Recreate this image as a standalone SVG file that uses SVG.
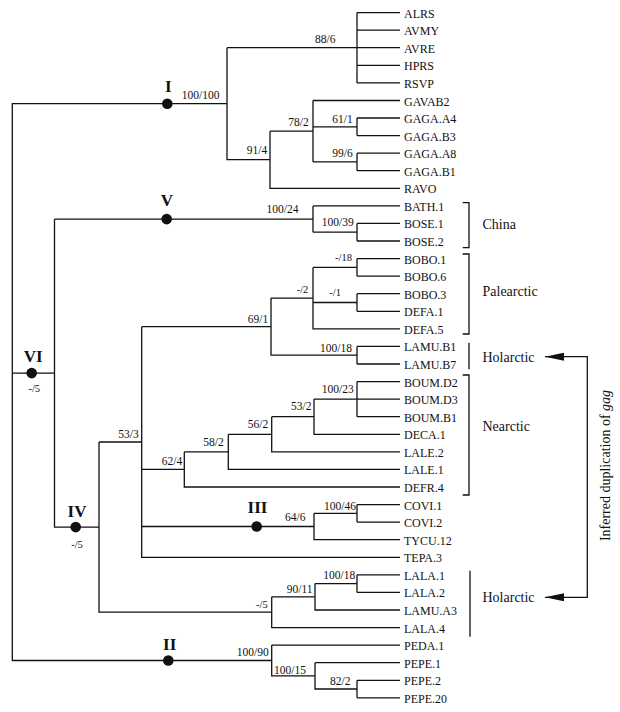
<svg xmlns="http://www.w3.org/2000/svg" width="620" height="712" viewBox="0 0 620 712">
<style>
.t{font-family:"Liberation Serif","Times New Roman",serif;fill:#111}
.lf{font-size:12px}
.s{font-size:11.5px}
.sd{font-size:10.5px}
.rn{font-size:17px;font-weight:bold;text-anchor:middle}
.rg{font-size:14px}
.ln{fill:none;stroke:#111;stroke-width:1.3}
.dot{fill:#111}
</style>
<defs>
<marker id="ah" markerUnits="userSpaceOnUse" viewBox="0 0 19 8" markerWidth="19" markerHeight="8" refX="19" refY="4" orient="auto-start-reverse">
<path d="M0,0 L19,4 L0,8 z" fill="#111"/>
</marker>
</defs>
<rect width="620" height="712" fill="#fff"/>
<g id="connectors" class="ln">
<!-- root -->
<path d="M227,103.7 H12.3 V660.5 H271.7"/>
<path d="M12.3,373.1 H54.5"/>
<!-- clade I -->
<path d="M227,47.7 V159.7 H270"/>
<path d="M227,47.7 H400"/>
<path d="M357,12.6 V82.9"/>
<path d="M357,12.6 H400 M357,30.2 H400 M357,65.3 H400 M357,82.9 H400"/>
<path d="M270,131.2 V188.3 H400"/>
<path d="M270,131.2 H313"/>
<path d="M313,100.5 V161.9"/>
<path d="M313,100.5 H400"/>
<path d="M313,126.8 H357 M357,118 V135.6 M357,118 H400 M357,135.6 H400"/>
<path d="M313,161.9 H357 M357,153.2 V170.7 M357,153.2 H400 M357,170.7 H400"/>
<!-- VI / V -->
<path d="M54.5,219.1 V527.1 H99"/>
<path d="M54.5,219.1 H313 V232.2 M313,205.9 V219.1 M313,205.9 H400"/>
<path d="M313,232.2 H357 M357,223.4 V241 M357,223.4 H400 M357,241 H400"/>
<!-- IV -->
<path d="M99,442 V612.2 H271.7"/>
<path d="M99,442 H141.7"/>
<path d="M141.7,326.7 V557.3 H400"/>
<!-- 69/1 -->
<path d="M141.7,326.7 H271 M271,298.1 V355.2 H357"/>
<path d="M271,298.1 H313 M313,267.4 V328.9 H400"/>
<path d="M313,267.4 H357 M357,258.6 V276.2 M357,258.6 H400 M357,276.2 H400"/>
<path d="M313,302.5 H357 M357,293.7 V311.3 M357,293.7 H400 M357,311.3 H400"/>
<path d="M357,346.4 V364 M357,346.4 H400 M357,364 H400"/>
<!-- 62/4 -->
<path d="M141.7,469.4 H184.3 M184.3,451.9 V487 H400"/>
<path d="M184.3,451.9 H228.3 M228.3,434.3 V469.4 H400"/>
<path d="M228.3,434.3 H271.7 M271.7,416.7 V451.9 H400"/>
<path d="M271.7,416.7 H314 M314,399.1 V434.3 H400"/>
<path d="M314,399.1 H400 M357,381.6 V416.7 M357,381.6 H400 M357,416.7 H400"/>
<!-- III -->
<path d="M141.7,526.5 H314 M314,513.3 V539.7 H400"/>
<path d="M314,513.3 H357 M357,504.6 V522.1 M357,504.6 H400 M357,522.1 H400"/>
<!-- -/5 -->
<path d="M271.7,596.8 V627.6 H400"/>
<path d="M271.7,596.8 H315 M315,583.6 V610 H400"/>
<path d="M315,583.6 H357 M357,574.8 V592.4 M357,574.8 H400 M357,592.4 H400"/>
<!-- II -->
<path d="M271.7,645.1 V675.9 H315 M271.7,645.1 H400"/>
<path d="M315,662.7 V689 H357 M315,662.7 H400"/>
<path d="M357,680.3 V697.8 M357,680.3 H400 M357,697.8 H400"/>
<!-- brackets -->
<path d="M462.7,202.7 H469 V247.7 H462.7"/>
<path d="M462.7,254 H469 V334 H462.7"/>
<path d="M469,342.7 V369.3"/>
<path d="M462.7,375 H469 V495 H462.7"/>
<path d="M470,570.7 V636.7"/>
<!-- duplication arrow -->
<path d="M545,356.7 H587.3 V597.3 H545" marker-start="url(#ah)" marker-end="url(#ah)"/>
</g>
<g id="node-I"><circle class="dot" cx="167.3" cy="103.7" r="5.3"/><text class="t rn" x="168.3" y="91.7">I</text><text class="t s" x="181.7" y="99.3">100/100</text></g>
<g id="node-88-6"><text class="t s" x="315" y="43.3">88/6</text></g>
<g id="node-61-1"><text class="t s" x="332.3" y="122.7">61/1</text></g>
<g id="node-78-2"><text class="t s" x="288.3" y="126">78/2</text></g>
<g id="node-91-4"><text class="t s" x="246.7" y="154">91/4</text></g>
<g id="node-99-6"><text class="t s" x="332.3" y="156.7">99/6</text></g>
<g id="node-V"><circle class="dot" cx="166.7" cy="219.1" r="5.3"/><text class="t rn" x="166.8" y="206">V</text><text class="t s" x="266.5" y="212.7">100/24</text></g>
<g id="node-100-39"><text class="t s" x="321.7" y="226">100/39</text></g>
<g id="node-VI"><circle class="dot" cx="31.7" cy="373.1" r="5.3"/><text class="t rn" x="33.3" y="361.7">VI</text><text class="t sd" x="34.3" y="391.7" text-anchor="middle">-/5</text></g>
<g id="node-m18"><text class="t sd" x="335" y="261">-/18</text></g>
<g id="node-m2"><text class="t sd" x="296.7" y="293">-/2</text></g>
<g id="node-m1"><text class="t sd" x="329.3" y="296">-/1</text></g>
<g id="node-69-1"><text class="t s" x="247.7" y="322.7">69/1</text></g>
<g id="node-100-18a"><text class="t s" x="320" y="351.7">100/18</text></g>
<g id="node-100-23"><text class="t s" x="321.7" y="392.7">100/23</text></g>
<g id="node-53-2"><text class="t s" x="291" y="410">53/2</text></g>
<g id="node-56-2"><text class="t s" x="247.7" y="428.3">56/2</text></g>
<g id="node-58-2"><text class="t s" x="203.3" y="446">58/2</text></g>
<g id="node-62-4"><text class="t s" x="161.7" y="465">62/4</text></g>
<g id="node-53-3"><text class="t s" x="118.3" y="437.7">53/3</text></g>
<g id="node-IV"><circle class="dot" cx="75.7" cy="527.1" r="5.3"/><text class="t rn" x="77" y="516.7">IV</text><text class="t sd" x="77" y="548.3" text-anchor="middle">-/5</text></g>
<g id="node-III"><circle class="dot" cx="256.7" cy="526.5" r="5.3"/><text class="t rn" x="257.5" y="513.3">III</text><text class="t s" x="285" y="521">64/6</text></g>
<g id="node-100-46"><text class="t s" x="324" y="510">100/46</text></g>
<g id="node-100-18b"><text class="t s" x="323.3" y="579.3">100/18</text></g>
<g id="node-90-11"><text class="t s" x="286.7" y="593.3">90/11</text></g>
<g id="node-m5"><text class="t sd" x="256" y="608.3">-/5</text></g>
<g id="node-II"><circle class="dot" cx="168.3" cy="660.5" r="5.3"/><text class="t rn" x="169.7" y="650">II</text><text class="t s" x="236.7" y="656">100/90</text></g>
<g id="node-100-15"><text class="t s" x="274" y="674">100/15</text></g>
<g id="node-82-2"><text class="t s" x="330" y="685">82/2</text></g>
<g id="leaves" class="t lf">
<g id="leaf-ALRS"><text x="404" y="17.6">ALRS</text></g>
<g id="leaf-AVMY"><text x="404" y="35.2">AVMY</text></g>
<g id="leaf-AVRE"><text x="404" y="52.7">AVRE</text></g>
<g id="leaf-HPRS"><text x="404" y="70.3">HPRS</text></g>
<g id="leaf-RSVP"><text x="404" y="87.9">RSVP</text></g>
<g id="leaf-GAVAB2"><text x="404" y="105.5">GAVAB2</text></g>
<g id="leaf-GAGA.A4"><text x="404" y="123">GAGA.A4</text></g>
<g id="leaf-GAGA.B3"><text x="404" y="140.6">GAGA.B3</text></g>
<g id="leaf-GAGA.A8"><text x="404" y="158.2">GAGA.A8</text></g>
<g id="leaf-GAGA.B1"><text x="404" y="175.7">GAGA.B1</text></g>
<g id="leaf-RAVO"><text x="404" y="193.3">RAVO</text></g>
<g id="leaf-BATH.1"><text x="404" y="210.9">BATH.1</text></g>
<g id="leaf-BOSE.1"><text x="404" y="228.4">BOSE.1</text></g>
<g id="leaf-BOSE.2"><text x="404" y="246">BOSE.2</text></g>
<g id="leaf-BOBO.1"><text x="404" y="263.6">BOBO.1</text></g>
<g id="leaf-BOBO.6"><text x="404" y="281.2">BOBO.6</text></g>
<g id="leaf-BOBO.3"><text x="404" y="298.7">BOBO.3</text></g>
<g id="leaf-DEFA.1"><text x="404" y="316.3">DEFA.1</text></g>
<g id="leaf-DEFA.5"><text x="404" y="333.9">DEFA.5</text></g>
<g id="leaf-LAMU.B1"><text x="404" y="351.4">LAMU.B1</text></g>
<g id="leaf-LAMU.B7"><text x="404" y="369">LAMU.B7</text></g>
<g id="leaf-BOUM.D2"><text x="404" y="386.6">BOUM.D2</text></g>
<g id="leaf-BOUM.D3"><text x="404" y="404.1">BOUM.D3</text></g>
<g id="leaf-BOUM.B1"><text x="404" y="421.7">BOUM.B1</text></g>
<g id="leaf-DECA.1"><text x="404" y="439.3">DECA.1</text></g>
<g id="leaf-LALE.2"><text x="404" y="456.9">LALE.2</text></g>
<g id="leaf-LALE.1"><text x="404" y="474.4">LALE.1</text></g>
<g id="leaf-DEFR.4"><text x="404" y="492">DEFR.4</text></g>
<g id="leaf-COVI.1"><text x="404" y="509.6">COVI.1</text></g>
<g id="leaf-COVI.2"><text x="404" y="527.1">COVI.2</text></g>
<g id="leaf-TYCU.12"><text x="404" y="544.7">TYCU.12</text></g>
<g id="leaf-TEPA.3"><text x="404" y="562.3">TEPA.3</text></g>
<g id="leaf-LALA.1"><text x="404" y="579.8">LALA.1</text></g>
<g id="leaf-LALA.2"><text x="404" y="597.4">LALA.2</text></g>
<g id="leaf-LAMU.A3"><text x="404" y="615">LAMU.A3</text></g>
<g id="leaf-LALA.4"><text x="404" y="632.6">LALA.4</text></g>
<g id="leaf-PEDA.1"><text x="404" y="650.1">PEDA.1</text></g>
<g id="leaf-PEPE.1"><text x="404" y="667.7">PEPE.1</text></g>
<g id="leaf-PEPE.2"><text x="404" y="685.3">PEPE.2</text></g>
<g id="leaf-PEPE.20"><text x="404" y="702.8">PEPE.20</text></g>
</g>
<g id="regions" class="t rg">
<g id="region-china"><text x="482.5" y="229">China</text></g>
<g id="region-palearctic"><text x="482.5" y="295.7">Palearctic</text></g>
<g id="region-holarctic-1"><text x="482.5" y="362">Holarctic</text></g>
<g id="region-nearctic"><text x="482.5" y="430.5">Nearctic</text></g>
<g id="region-holarctic-2"><text x="482.5" y="602.3">Holarctic</text></g>
</g>
<g id="duplication-label"><text class="t rg" transform="translate(610,465.5) rotate(-90)" text-anchor="middle">Inferred duplication of <tspan font-style="italic">gag</tspan></text></g>
</svg>
